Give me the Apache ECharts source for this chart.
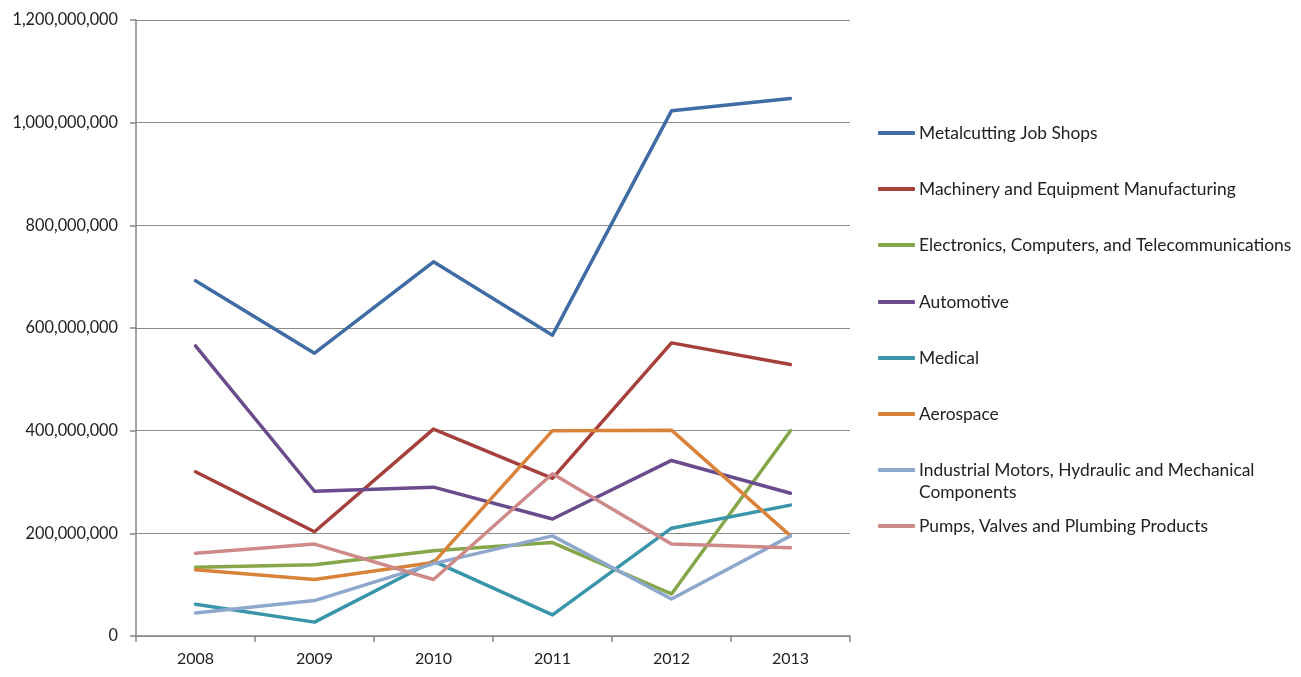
<!DOCTYPE html>
<html>
<head>
<meta charset="utf-8">
<script src="https://cdn.jsdelivr.net/npm/echarts@6/dist/echarts.min.js"></script>
<style>html,body{margin:0;padding:0;background:#fff}#c{width:1301px;height:677px}</style>
</head>
<body>
<div id="c"></div>
<script>
const years = ['2008', '2009', '2010', '2011', '2012', '2013'];
const seriesNames = [
  'Metalcutting Job Shops',
  'Machinery and Equipment Manufacturing',
  'Electronics, Computers, and Telecommunications',
  'Automotive',
  'Medical',
  'Aerospace',
  'Industrial Motors, Hydraulic and Mechanical Components',
  'Pumps, Valves and Plumbing Products'
];
const metalcutting = [692e6, 551e6, 729e6, 586e6, 1023e6, 1047e6];
const machinery    = [320e6, 203e6, 403e6, 307e6, 571e6, 529e6];
const electronics  = [134e6, 139e6, 166e6, 182e6, 82e6, 400e6];
const automotive   = [565e6, 282e6, 290e6, 228e6, 342e6, 278e6];
const medical      = [62e6, 27e6, 146e6, 41e6, 210e6, 255e6];
const aerospace    = [129e6, 110e6, 143e6, 400e6, 401e6, 195e6];
const industrial   = [45e6, 69e6, 141e6, 195e6, 72e6, 195e6];
const pumps        = [161e6, 179e6, 110e6, 316e6, 179e6, 172e6];
const allValues = [metalcutting, machinery, electronics, automotive, medical, aerospace, industrial, pumps];
const colors = ['#3F6CA4', '#A6403C', '#86A64A', '#6A4C8C', '#3A95AA', '#D9823A', '#8EA7CC', '#CE8A89'];

const FONT = 'Lato';
const legendTops = [133, 189, 245, 302, 358, 414, 470, 526];
const LH = 22.7;

const legends = seriesNames.map((n, i) => {
  const twoLine = i === 6;
  return {
    show: true,
    orient: 'vertical',
    left: 878,
    top: twoLine ? legendTops[i] - 1.5 * LH : legendTops[i] - LH / 2,
    padding: 0,
    itemWidth: 37,
    itemHeight: 4,
    itemGap: 0,
    icon: 'roundRect',
    selectedMode: false,
    data: [n],
    formatter: twoLine ? function () { return '\nIndustrial Motors, Hydraulic and Mechanical\nComponents'; } : '{name}',
    textStyle: { fontFamily: FONT, fontSize: 17.4, color: '#222', lineHeight: LH, padding: [0, 0, 0, -1] }
  };
});

const chart = echarts.init(document.getElementById('c'), null, { renderer: 'canvas' });
chart.setOption({
  animation: false,
  color: colors,
  legend: legends,
  grid: { left: 136, right: 451, top: 20, bottom: 41, containLabel: false },
  xAxis: {
    type: 'category',
    data: years,
    boundaryGap: true,
    axisLine: { lineStyle: { color: '#868686', width: 1.5 } },
    axisTick: { show: true, length: 6, lineStyle: { color: '#868686', width: 1.5 } },
    axisLabel: { margin: 15, fontFamily: FONT, fontSize: 16, color: '#222' }
  },
  yAxis: {
    type: 'value',
    min: 0,
    max: 1200000000,
    interval: 200000000,
    axisLine: { show: true, lineStyle: { color: '#868686', width: 1.5 } },
    axisTick: { show: true, length: 6, lineStyle: { color: '#868686', width: 1.5 } },
    splitLine: { show: true, lineStyle: { color: '#8c8c8c', width: 1.2 } },
    axisLabel: {
      margin: 18, fontFamily: FONT, fontSize: 16.3, color: '#222',
      formatter: v => v.toLocaleString('en-US')
    }
  },
  series: seriesNames.map((n, i) => ({
    name: n,
    type: 'line',
    data: allValues[i],
    symbol: 'none',
    lineStyle: { width: 3.5, color: colors[i], cap: 'round', join: 'round' },
    itemStyle: { color: colors[i] }
  }))
});
</script>
</body>
</html>
